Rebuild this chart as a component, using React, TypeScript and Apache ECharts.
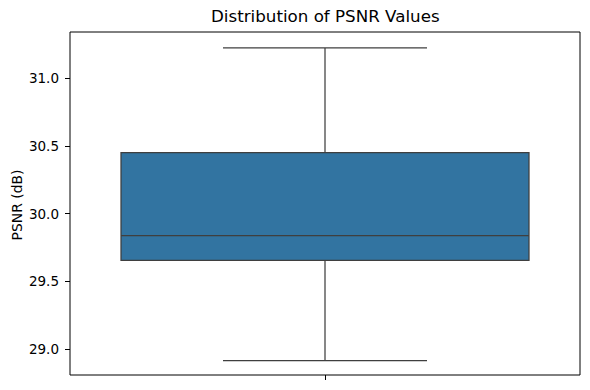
import React, { useEffect, useRef } from "react";
import * as echarts from "echarts";

const categories = [""];
// [min whisker, Q1, median, Q3, max whisker]
const boxValues = [[28.916, 29.656, 29.838, 30.45, 31.223]];
const yTicks = [29.0, 29.5, 30.0, 30.5, 31.0];

const BOX_COLOR = "#3274a1";
const LINE_COLOR = "#3f3f3f";

export default function App() {
  const ref = useRef<HTMLDivElement>(null);
  useEffect(() => {
    if (!ref.current) return;
    const chart = echarts.init(ref.current, null, { renderer: "svg" });
    const font = "DejaVu Sans";
    chart.setOption({
      animation: false,
      title: {
        text: "Distribution of PSNR Values",
        left: 211,
        top: 7,
        padding: 0,
        textStyle: { fontFamily: font, fontSize: 16.7, fontWeight: "normal", color: "#000" },
      },
      graphic: [
        {
          type: "text",
          x: 17,
          y: 205,
          rotation: Math.PI / 2,
          style: {
            text: "PSNR (dB)",
            fontFamily: font,
            fontSize: 13.9,
            fill: "#000",
            align: "center",
            verticalAlign: "middle",
          },
        },
      ],
      grid: {
        left: 70,
        right: 10,
        top: 32,
        bottom: 15,
        containLabel: false,
        outerBoundsMode: "none",
        show: true,
        borderColor: "#000",
        borderWidth: 1,
        backgroundColor: "transparent",
      },
      xAxis: {
        type: "category",
        data: categories,
        axisLine: { show: false },
        axisTick: { show: true, alignWithLabel: true, length: 5, lineStyle: { color: "#000" } },
        axisLabel: { show: false },
        splitLine: { show: false },
      },
      yAxis: {
        type: "value",
        min: 28.81,
        max: 31.341,
        axisLine: { show: false },
        axisTick: {
          show: true,
          length: 5,
          lineStyle: { color: "#000" },
          customValues: yTicks,
        },
        axisLabel: {
          fontFamily: font,
          fontSize: 13.5,
          color: "#000",
          margin: 11,
          customValues: yTicks,
          formatter: (v: number) => v.toFixed(1),
        },
        splitLine: { show: false },
      },
      series: [
        {
          type: "custom",
          data: boxValues.map((b, i) => [i, ...b]),
          encode: { x: 0, y: [1, 2, 3, 4, 5] },
          renderItem: (params: any, api: any) => {
            const x = api.value(0);
            const vals = [1, 2, 3, 4, 5].map((d) => api.coord([x, api.value(d)]));
            const cx = vals[0][0];
            const band = api.size([1, 0])[0];
            const half = band * 0.4;
            const capHalf = half / 2;
            const [pMin, pQ1, pMed, pQ3, pMax] = vals.map((p: number[]) => p[1]);
            const ls = { stroke: LINE_COLOR, lineWidth: 1.25, fill: null };
            return {
              type: "group",
              children: [
                { type: "line", shape: { x1: cx, y1: pQ3, x2: cx, y2: pMax }, style: ls },
                { type: "line", shape: { x1: cx, y1: pQ1, x2: cx, y2: pMin }, style: ls },
                { type: "line", shape: { x1: cx - capHalf, y1: pMax, x2: cx + capHalf, y2: pMax }, style: ls },
                { type: "line", shape: { x1: cx - capHalf, y1: pMin, x2: cx + capHalf, y2: pMin }, style: ls },
                {
                  type: "rect",
                  shape: { x: cx - half, y: pQ3, width: half * 2, height: pQ1 - pQ3 },
                  style: { fill: BOX_COLOR, stroke: LINE_COLOR, lineWidth: 1.25 },
                },
                { type: "line", shape: { x1: cx - half, y1: pMed, x2: cx + half, y2: pMed }, style: ls },
              ],
            };
          },
        },
      ],
    });
    return () => chart.dispose();
  }, []);
  return <div ref={ref} style={{ width: 590, height: 390, margin: -8 }} />;
}
